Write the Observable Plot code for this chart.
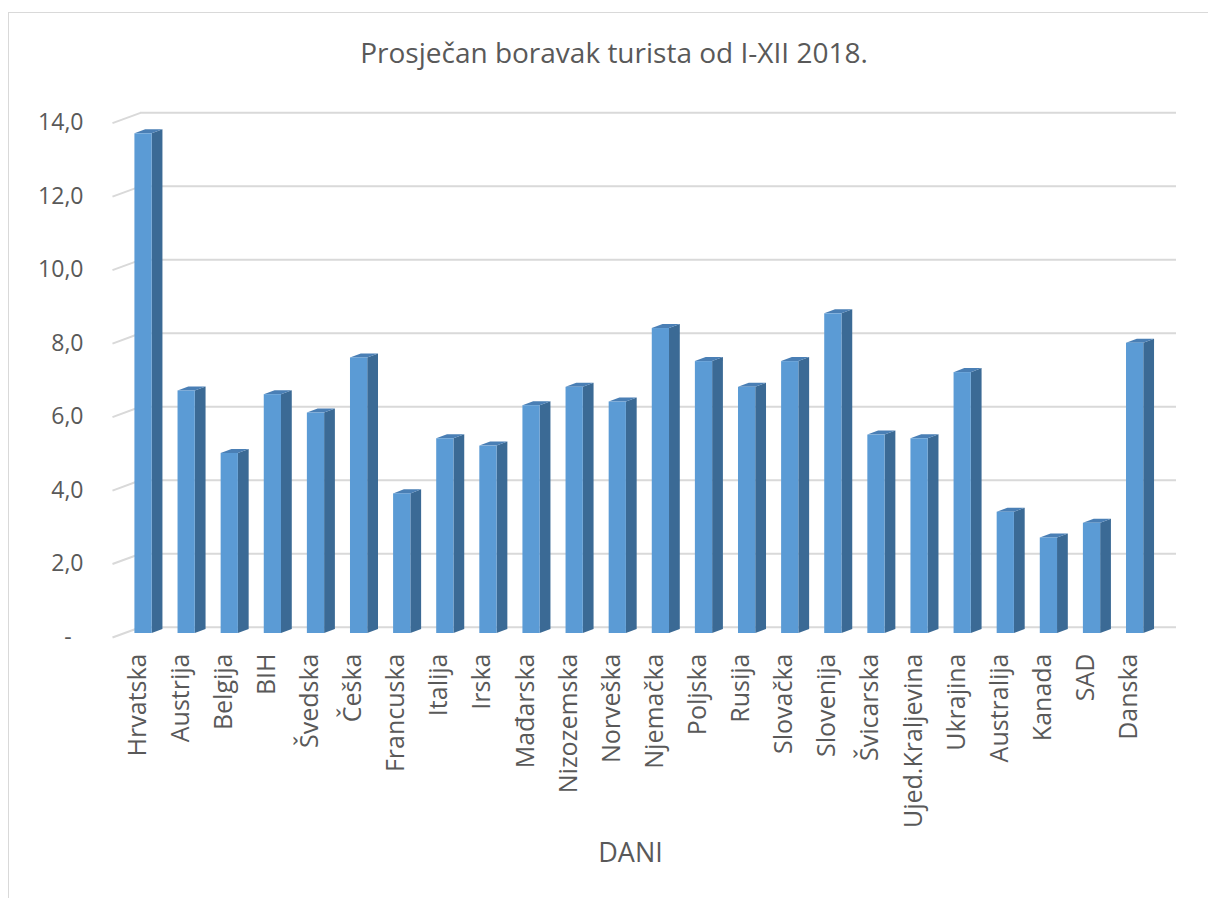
<!DOCTYPE html>
<html>
<head>
<meta charset="utf-8">
<script src="https://cdn.jsdelivr.net/npm/d3@7"></script>
<script src="https://cdn.jsdelivr.net/npm/@observablehq/plot@0.6"></script>
<style>
  html, body { margin: 0; padding: 0; background: #fff; }
  body { width: 1208px; height: 898px; position: relative; overflow: hidden; font-family: "Open Sans", sans-serif; }
  #frame { position: absolute; left: 8px; top: 12px; width: 1300px; height: 1000px; border-left: 1.5px solid #d9d9d9; border-top: 1.5px solid #d9d9d9; }
  #title { position: absolute; left: 0; top: 34px; width: 1228px; height: 36px; line-height: 36px; text-align: center; font-size: 28px; color: #595959; }
  #chart { position: absolute; left: 0; top: 80px; }
</style>
</head>
<body>
<div id="frame"></div>
<div id="title">Prosječan boravak turista od I-XII 2018.</div>
<div id="chart"></div>
<script>
const countries = ["Hrvatska","Austrija","Belgija","BIH","Švedska","Češka","Francuska","Italija","Irska","Mađarska","Nizozemska","Norveška","Njemačka","Poljska","Rusija","Slovačka","Slovenija","Švicarska","Ujed.Kraljevina","Ukrajina","Australija","Kanada","SAD","Danska"];
const values = [13.6,6.6,4.9,6.5,6.0,7.5,3.8,5.3,5.1,6.2,6.7,6.3,8.3,7.4,6.7,7.4,8.7,5.4,5.3,7.1,3.3,2.6,3.0,7.9];
const yTicks = [0,2,4,6,8,10,12,14];
const xLabel = "DANI";

// 3D geometry (in data units)
const hw = 0.2;        // half width of the bar front face
const depthX = 0.25;   // depth offset along x
const depthY = 0.11;   // depth offset along y
const backX0 = -0.07, backX1 = 23.96, frontX0 = -0.72, frontX1 = 23.31;
const backDY = 0.17, frontDY = 0.11;

const bars = countries.map((c, i) => ({c, i, v: values[i]}));
const sideFaces = bars.flatMap(d => [
  {c: d.c, x: d.i + hw, y1: 0, y2: d.v},
  {c: d.c, x: d.i + hw + depthX, y1: depthY, y2: d.v + depthY}
]);
const topFaces = bars.flatMap(d => [
  {c: d.c, y: d.v, x1: d.i - hw, x2: d.i + hw},
  {c: d.c, y: d.v + depthY, x1: d.i - hw + depthX, x2: d.i + hw + depthX}
]);

const fmt = v => v === 0 ? "-\u00a0\u00a0" : v.toFixed(1).replace(".", ",");

const chart = Plot.plot({
  width: 1208,
  height: 818,
  marginLeft: 112,
  marginRight: 60,
  marginTop: 38.6,
  marginBottom: 265,
  style: {fontFamily: "'Open Sans', sans-serif", color: "#595959", background: "transparent"},
  x: {type: "linear", domain: [frontX0, frontX1]},
  y: {domain: [0, 14]},
  marks: [
    Plot.ruleY(yTicks, {y: d => d + backDY, x1: backX0, x2: backX1, stroke: "#d9d9d9", strokeWidth: 2}),
    Plot.link(yTicks, {x1: frontX0, y1: d => d - frontDY, x2: backX0, y2: d => d + backDY, stroke: "#d9d9d9", strokeWidth: 2}),
    Plot.areaY(sideFaces, {x: "x", y1: "y1", y2: "y2", z: "c", fill: "#3b6a95"}),
    Plot.areaX(topFaces, {y: "y", x1: "x1", x2: "x2", z: "c", fill: "#4a7fb5"}),
    Plot.rect(bars, {x1: d => d.i - hw, x2: d => d.i + hw, y1: 0, y2: "v", fill: "#5b9bd5"}),
    Plot.axisY({ticks: yTicks, tickFormat: fmt, tickSize: 0, tickPadding: 29, dy: 4, fontSize: 23, label: null}),
    Plot.axisX({ticks: d3.range(countries.length), tickFormat: i => countries[i], tickRotate: -90, tickSize: 0, tickPadding: 20, dx: -6, fontSize: 25, label: null}),
    Plot.axisX({ticks: [], tickSize: 0, fontSize: 27, label: xLabel, labelAnchor: "center", labelArrow: "none", labelOffset: 228})
  ]
});
document.getElementById("chart").appendChild(chart);
</script>
</body>
</html>
